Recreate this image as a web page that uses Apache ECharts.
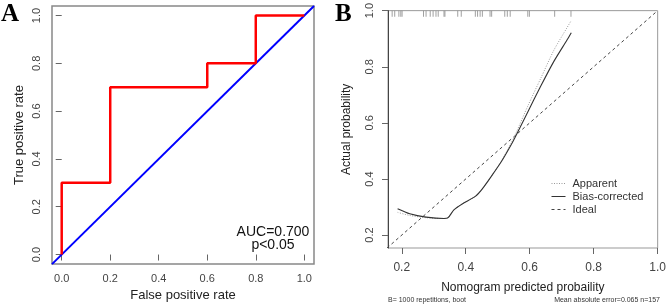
<!DOCTYPE html>
<html>
<head>
<meta charset="utf-8">
<script src="https://cdn.jsdelivr.net/npm/echarts@6/dist/echarts.min.js"></script>
<style>
html,body{margin:0;padding:0;background:#fff;}
#c{width:669px;height:307px;}
</style>
</head>
<body>
<div id="c"></div>
<script>
// ---- Panel A: ROC ----
var rocFpr = [0, 0, 0.2, 0.2, 0.6, 0.6, 0.8, 0.8, 1.0];
var rocTpr = [0, 0.3, 0.3, 0.7, 0.7, 0.8, 0.8, 1.0, 1.0];
var diagA = [-0.04, 1.04];
var rocTicks = [0, 0.2, 0.4, 0.6, 0.8, 1.0];
var aucText = 'AUC=0.700';
var pText = 'p<0.05';

// ---- Panel B: calibration ----
var calX = [0.187, 0.225, 0.276, 0.332, 0.345, 0.363, 0.389, 0.430, 0.450, 0.481, 0.512, 0.542, 0.558, 0.594, 0.635, 0.676, 0.717, 0.730];
var biasY = [0.294, 0.276, 0.264, 0.259, 0.262, 0.290, 0.311, 0.338, 0.362, 0.411, 0.463, 0.522, 0.557, 0.639, 0.732, 0.820, 0.896, 0.921];
var appY = [0.281, 0.270, 0.262, 0.259, 0.262, 0.290, 0.311, 0.338, 0.362, 0.411, 0.465, 0.528, 0.566, 0.660, 0.760, 0.860, 0.940, 0.965];
var idealXY = [0.154, 1.0];
var rugX = [0.170, 0.178, 0.191, 0.197, 0.201, 0.268, 0.276, 0.289, 0.298, 0.307, 0.314, 0.332, 0.335, 0.375, 0.386, 0.430, 0.437, 0.445, 0.452, 0.476, 0.481, 0.522, 0.530, 0.539, 0.594, 0.599, 0.678, 0.729];
var calTicks = [0.2, 0.4, 0.6, 0.8, 1.0];
var noteLeft = 'B= 1000 repetitions, boot';
var noteRight = 'Mean absolute error=0.065 n=157';

var FONT = 'Liberation Sans';
var chart = echarts.init(document.getElementById('c'), null, {renderer: 'canvas'});

function zip(a, b) { return a.map(function (v, i) { return [v, b[i]]; }); }

var tickStyle = {lineStyle: {color: '#666', width: 1}, length: 6};
var labStyle = {color: '#444', fontFamily: FONT, fontSize: 11};

chart.setOption({
  animation: false,
  grid: [
    {left: 52, top: 6, width: 262, height: 262, show: true, borderColor: '#888', borderWidth: 1.5, backgroundColor: 'transparent'},
    {left: 388, top: 9, width: 274, height: 239, show: true, borderColor: '#999', borderWidth: 1, backgroundColor: 'transparent'}
  ],
  xAxis: [
    {gridIndex: 0, type: 'value', min: -0.04, max: 1.04, splitLine: {show: false},
      axisLine: {show: false},
      axisTick: Object.assign({customValues: rocTicks}, tickStyle),
      axisLabel: Object.assign({customValues: rocTicks, margin: 9, formatter: function (v) { return v.toFixed(1); }}, labStyle),
      name: 'False positive rate', nameLocation: 'middle', nameGap: 22,
      nameTextStyle: {color: '#222', fontFamily: FONT, fontSize: 13}},
    {gridIndex: 1, type: 'value', min: 0.157, max: 1.0, splitLine: {show: false},
      axisLine: {show: false},
      axisTick: Object.assign({customValues: calTicks}, tickStyle),
      axisLabel: Object.assign({customValues: calTicks, margin: 14, formatter: function (v) { return v.toFixed(1); }}, labStyle, {fontSize: 12}),
      name: 'Nomogram predicted probaility', nameLocation: 'middle', nameGap: 34,
      nameTextStyle: {color: '#222', fontFamily: FONT, fontSize: 12}}
  ],
  yAxis: [
    {gridIndex: 0, type: 'value', min: -0.04, max: 1.04, splitLine: {show: false},
      axisLine: {show: false},
      axisTick: Object.assign({customValues: rocTicks}, tickStyle),
      axisLabel: Object.assign({customValues: rocTicks, rotate: 90, margin: 10, formatter: function (v) { return v.toFixed(1); }}, labStyle),
      name: 'True positive rate', nameLocation: 'middle', nameGap: 26,
      nameTextStyle: {color: '#222', fontFamily: FONT, fontSize: 13}},
    {gridIndex: 1, type: 'value', min: 0.154, max: 1.0, splitLine: {show: false},
      axisLine: {show: true, lineStyle: {color: '#444', width: 1}},
      axisTick: Object.assign({customValues: calTicks}, tickStyle),
      axisLabel: Object.assign({customValues: calTicks, rotate: 90, margin: 13, formatter: function (v) { return v.toFixed(1); }}, labStyle),
      name: 'Actual probability', nameLocation: 'middle', nameGap: 35,
      nameTextStyle: {color: '#222', fontFamily: FONT, fontSize: 12}}
  ],
  legend: {
    orient: 'vertical', left: 546, top: 173, itemWidth: 14, itemHeight: 10, itemGap: 2,
    itemStyle: {opacity: 0},
    lineStyle: {width: 1},
    data: ['Apparent', 'Bias-corrected', 'Ideal'],
    textStyle: {color: '#333', fontFamily: FONT, fontSize: 11, padding: [0, 0, 0, 2]},
    selectedMode: false
  },
  series: [
    {type: 'line', xAxisIndex: 0, yAxisIndex: 0, data: zip(diagA, diagA), symbol: 'none',
      lineStyle: {color: '#0000ff', width: 2}, clip: true, z: 2},
    {type: 'line', xAxisIndex: 0, yAxisIndex: 0, data: zip(rocFpr, rocTpr), symbol: 'none',
      lineStyle: {color: '#ff0000', width: 2.5}, z: 3},
    {name: 'Ideal', type: 'line', xAxisIndex: 1, yAxisIndex: 1, data: zip(idealXY, idealXY), symbol: 'none',
      lineStyle: {color: '#444', width: 1, type: [3, 3]}, itemStyle: {color: '#444'}},
    {name: 'Apparent', type: 'line', xAxisIndex: 1, yAxisIndex: 1, data: zip(calX, appY), symbol: 'none', smooth: 0.25,
      lineStyle: {color: '#999', width: 1, type: [1, 1.5]}, itemStyle: {color: '#999'}},
    {name: 'Bias-corrected', type: 'line', xAxisIndex: 1, yAxisIndex: 1, data: zip(calX, biasY), symbol: 'none', smooth: 0.25,
      lineStyle: {color: '#333', width: 1.1}, itemStyle: {color: '#333'}},
    {type: 'scatter', xAxisIndex: 1, yAxisIndex: 1, data: rugX.map(function (v) { return [v, 1.0]; }),
      symbol: 'rect', symbolSize: [1, 6], symbolOffset: [0, 3], itemStyle: {color: '#888'}, silent: true}
  ],
  graphic: [
    {type: 'text', left: 1, top: 2, style: {text: 'A', font: 'bold 25px "Liberation Serif"', fill: '#000'}},
    {type: 'text', left: 335, top: 2, style: {text: 'B', font: 'bold 25px "Liberation Serif"', fill: '#000'}},
    {type: 'text', x: 273, y: 226, style: {text: aucText + '\n' + pText, font: '14px "Liberation Sans"', fill: '#111', align: 'center', lineHeight: 13}},
    {type: 'text', left: 388, top: 297, style: {text: noteLeft, font: '7px "Liberation Sans"', fill: '#333'}},
    {type: 'text', right: 9, top: 297, style: {text: noteRight, font: '7px "Liberation Sans"', fill: '#333'}}
  ]
});
</script>
</body>
</html>
